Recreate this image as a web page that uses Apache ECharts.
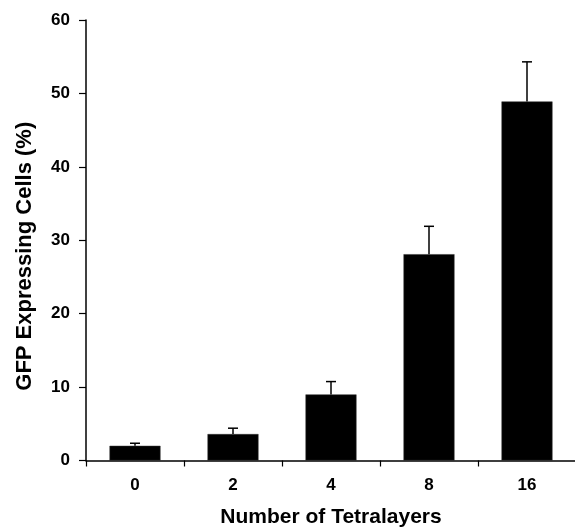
<!DOCTYPE html>
<html>
<head>
<meta charset="UTF-8">
<title>GFP Expressing Cells</title>
<script src="https://cdn.jsdelivr.net/npm/echarts@6/dist/echarts.min.js"></script>
<style>
html, body { margin: 0; padding: 0; background: #fff; }
#chart { width: 575px; height: 530px; }
</style>
</head>
<body>
<div id="chart"></div>
<script type="text/javascript">
// 数据
var layers = ['0', '2', '4', '8', '16'];
var gfpMean = [2.0, 3.6, 9.0, 28.1, 48.9];
var gfpErr = [0.35, 0.8, 1.75, 3.8, 5.4];
var yTicks = [0, 10, 20, 30, 40, 50, 60];

var fontFam = '"Liberation Sans", Arial, sans-serif';

var myChart = echarts.init(document.getElementById('chart'));

// 误差线：竖线 + 顶部横帽
function renderErr(params, api) {
	var idx = api.value(0);
	var top = api.coord([idx, api.value(1) + api.value(2)]);
	var base = api.coord([idx, api.value(1)]);
	var half = 5;
	var style = { stroke: '#000', lineWidth: 1.5 };
	return {
		type: 'group',
		children: [
			{ type: 'line', shape: { x1: base[0], y1: base[1], x2: top[0], y2: top[1] }, style: style },
			{ type: 'line', shape: { x1: top[0] - half, y1: top[1], x2: top[0] + half, y2: top[1] }, style: style }
		]
	};
}

var errData = [];
for (var i = 0; i < layers.length; i++) {
	errData.push([i, gfpMean[i], gfpErr[i]]);
}

var option = {
	animation: false,
	backgroundColor: '#fff',
	grid: { left: 86, top: 20, width: 490, height: 440.5, outerBoundsMode: 'none', containLabel: false },
	xAxis: {
		type: 'category',
		data: layers,
		name: 'Number of Tetralayers',
		nameLocation: 'middle',
		nameGap: 46,
		nameTextStyle: { fontFamily: fontFam, fontWeight: 'bold', fontSize: 21, color: '#000' },
		axisLine: { lineStyle: { color: '#000', width: 1.5 } },
		axisTick: { show: true, length: 6, inside: false, lineStyle: { color: '#000', width: 1.2 } },
		axisLabel: { fontFamily: fontFam, fontWeight: 'bold', fontSize: 17, color: '#000', margin: 16 },
		splitLine: { show: false }
	},
	yAxis: {
		type: 'value',
		min: yTicks[0],
		max: yTicks[yTicks.length - 1],
		interval: 10,
		name: 'GFP Expressing Cells (%)',
		nameLocation: 'middle',
		nameGap: 50,
		nameTextStyle: { fontFamily: fontFam, fontWeight: 'bold', fontSize: 22, color: '#000', padding: [0, 0, 0, -32] },
		axisLine: { show: true, lineStyle: { color: '#000', width: 1.5 } },
		axisTick: { show: true, length: 7, lineStyle: { color: '#000', width: 1.2 } },
		axisLabel: { fontFamily: fontFam, fontWeight: 'bold', fontSize: 17, color: '#000', margin: 16 },
		splitLine: { show: false }
	},
	series: [
		{
			type: 'bar',
			data: gfpMean,
			barWidth: 51,
			itemStyle: { color: '#000', borderColor: '#333', borderWidth: 0.5 }
		},
		{
			type: 'custom',
			renderItem: renderErr,
			data: errData,
			encode: { x: 0, y: [1, 2] },
			z: 3
		}
	]
};

myChart.setOption(option);
</script>
</body>
</html>
